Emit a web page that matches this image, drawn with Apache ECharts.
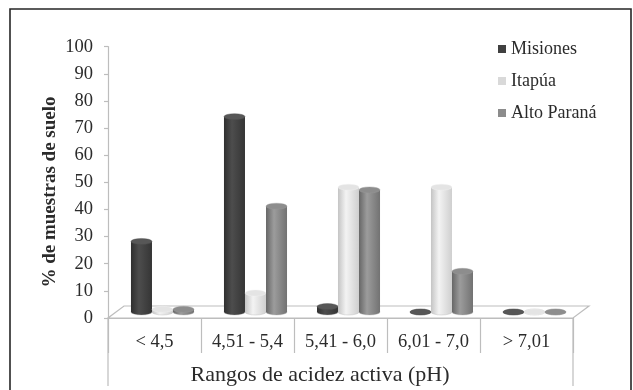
<!DOCTYPE html>
<html>
<head>
<meta charset="utf-8">
<script src="https://cdn.jsdelivr.net/npm/echarts@6/dist/echarts.min.js"></script>
<style>
  html, body { margin: 0; padding: 0; background: #fff; }
  #chart { width: 633px; height: 390px; }
</style>
</head>
<body>
<div id="chart"></div>
<script>
// pH ranges and share of soil samples (%) per department
const categories = ['< 4,5', '4,51 - 5,4', '5,41 - 6,0', '6,01 - 7,0', '> 7,01'];
const misiones   = [26, 72, 2, 0, 0];
const itapua     = [1, 7, 46, 46, 0];
const altoParana = [1, 39, 45, 15, 0];
const seriesNames = ['Misiones', 'Itapúa', 'Alto Paraná'];

const SERIF = '"Liberation Serif", "Times New Roman", serif';
const INK = '#2b2b2b';

// plot box and the pseudo-3D depth of the floor
const G = { left: 108, right: 60, top: 46.7, bottom: 72 };
const DEPTH_X = 16, DEPTH_Y = 12;

// cylinder shading per series: side gradient stops + cap colour
const shades = [
  { side: ['#2f2f2f', '#4d4d4d', '#353535'], cap: '#575757', legend: '#404040' },
  { side: ['#c4c4c4', '#f3f3f3', '#cfcfcf'], cap: '#e4e4e4', legend: '#d9d9d9' },
  { side: ['#676767', '#9c9c9c', '#727272'], cap: '#8d8d8d', legend: '#8c8c8c' }
];

function sideFill(s) {
  return new echarts.graphic.LinearGradient(0, 0, 1, 0, [
    { offset: 0, color: s.side[0] },
    { offset: 0.38, color: s.side[1] },
    { offset: 1, color: s.side[2] }
  ]);
}

function cylinderRenderer(idx) {
  const s = shades[idx];
  return function (params, api) {
    const cat = api.value(0);
    const val = api.value(1);
    const base = api.coord([cat, 0]);
    const top = api.coord([cat, val]);
    const band = api.size([1, 0])[0];
    const w = band * 0.226;
    const rx = w / 2, ry = 3;
    const cx = base[0] + DEPTH_X / 2 + (idx - 1) * w;
    const by = base[1] - DEPTH_Y / 2;
    const ty = top[1] - DEPTH_Y / 2;
    const fill = sideFill(s);
    return {
      type: 'group',
      children: [
        { type: 'circle', x: cx, y: by, scaleY: ry / rx, shape: { cx: 0, cy: 0, r: rx },
          style: { fill: fill, stroke: '#a8a8a8', lineWidth: 0.5 } },
        { type: 'rect', shape: { x: cx - rx, y: ty, width: w, height: Math.max(by - ty, 0) }, style: { fill: fill } },
        { type: 'circle', x: cx, y: ty, scaleY: ry / rx, shape: { cx: 0, cy: 0, r: rx },
          style: { fill: s.cap, stroke: s.side[1], lineWidth: 0.6 } }
      ]
    };
  };
}

function toPairs(arr) { return arr.map((v, i) => [i, v]); }

const dataSets = [misiones, itapua, altoParana];

const chart = echarts.init(document.getElementById('chart'), null, { renderer: 'canvas' });

const floorL = G.left, floorR = 633 - G.right, floorY = 390 - G.bottom;

chart.setOption({
  animation: false,
  backgroundColor: '#fff',
  grid: { left: G.left, right: G.right, top: G.top, bottom: G.bottom, containLabel: false, outerBoundsMode: 'none' },
  legend: {
    orient: 'vertical',
    left: 493,
    top: 35,
    icon: 'rect',
    itemWidth: 8,
    itemHeight: 8,
    itemGap: 14,
    textStyle: { fontFamily: SERIF, fontSize: 18, color: INK },
    data: seriesNames
  },
  xAxis: {
    type: 'category',
    data: categories,
    boundaryGap: true,
    axisLine: { lineStyle: { color: '#bdbdbd', width: 1.2 } },
    axisTick: { show: true, interval: 0, length: 35, lineStyle: { color: '#bdbdbd', width: 1.2 } },
    axisLabel: { interval: 0, margin: 15, fontFamily: SERIF, fontSize: 18.5, color: INK }
  },
  yAxis: {
    type: 'value',
    min: 0,
    max: 100,
    interval: 10,
    splitLine: { show: false },
    axisLine: { show: true, lineStyle: { color: '#bdbdbd', width: 1.2 } },
    axisTick: { show: true, length: 4, lineStyle: { color: '#bdbdbd', width: 1.2 } },
    axisLabel: { margin: 15, fontFamily: SERIF, fontSize: 18.5, color: INK }
  },
  graphic: [
    // outer frame
    { type: 'rect', z: 0, shape: { x: 10, y: 9, width: 621, height: 400 },
      style: { fill: 'none', stroke: '#262626', lineWidth: 1.6 } },
    // floor of the pseudo-3D plot
    { type: 'polygon', z: 0,
      shape: { points: [[floorL, floorY], [floorR, floorY], [floorR + DEPTH_X, floorY - DEPTH_Y], [floorL + DEPTH_X, floorY - DEPTH_Y]] },
      style: { fill: '#fff', stroke: '#bdbdbd', lineWidth: 1.2 } },
    // outer verticals of the category table
    { type: 'line', z: 0, shape: { x1: floorL, y1: floorY, x2: floorL, y2: 386 },
      style: { stroke: '#bdbdbd', lineWidth: 1.2 } },
    { type: 'line', z: 0, shape: { x1: floorR, y1: floorY, x2: floorR, y2: 386 },
      style: { stroke: '#bdbdbd', lineWidth: 1.2 } },
    // category axis title
    { type: 'text', z: 5, x: 320, y: 375,
      style: { text: 'Rangos de acidez activa (pH)', font: '22px ' + SERIF, fill: INK,
               align: 'center', verticalAlign: 'middle' } },
    // value axis title
    { type: 'text', z: 5, x: 50, y: 192, rotation: Math.PI / 2,
      style: { text: '% de muestras de suelo', font: 'bold 19px ' + SERIF, fill: INK,
               align: 'center', verticalAlign: 'middle' } }
  ],
  series: dataSets.map((d, i) => ({
    name: seriesNames[i],
    type: 'custom',
    renderItem: cylinderRenderer(i),
    encode: { x: 0, y: 1 },
    itemStyle: { color: shades[i].legend },
    data: toPairs(d)
  }))
});
</script>
</body>
</html>
